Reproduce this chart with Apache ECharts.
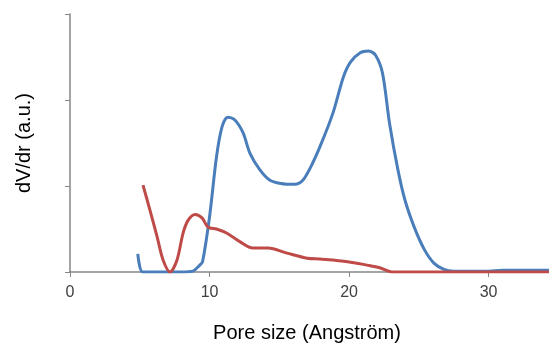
<!DOCTYPE html>
<html>
<head>
<meta charset="utf-8">
<script src="https://cdn.jsdelivr.net/npm/echarts@6/dist/echarts.min.js"></script>
<style>
  html, body { margin: 0; padding: 0; background: #fff; }
  #chart { width: 549px; height: 344px; }
</style>
</head>
<body>
<div id="chart"></div>
<script>
// pore size (Angstrom) and dV/dr (a.u.)
var blueX = [4.86, 5.2, 6, 7, 8, 8.8, 9.3, 9.5, 10.0, 10.5, 10.9, 11.3, 11.8, 12.4, 12.9, 13.6, 14.3, 15.1, 16.1, 16.7, 17.4, 18.1, 18.85, 19.6, 20.1, 20.8, 21.4, 21.9, 22.4, 22.9, 23.5, 24.0, 24.7, 25.4, 26.1, 26.8, 27.5, 30, 31, 34.4];
var blueY = [0.21, 0, 0, 0, 0, 0.01, 0.08, 0.12, 0.64, 1.34, 1.69, 1.80, 1.77, 1.62, 1.38, 1.19, 1.07, 1.03, 1.02, 1.07, 1.27, 1.53, 1.85, 2.27, 2.44, 2.55, 2.57, 2.52, 2.31, 1.73, 1.19, 0.84, 0.51, 0.26, 0.10, 0.03, 0.01, 0.01, 0.02, 0.02];

var redX = [5.23, 5.73, 6.24, 6.67, 7.17, 7.67, 8.1, 8.46, 8.96, 9.46, 9.9, 10.5, 11.25, 12.2, 13.1, 14.2, 15.55, 17.0, 17.9, 19.9, 21.3, 22.2, 23.15, 25, 30, 34.4];
var redY = [1.01, 0.72, 0.41, 0.14, 0, 0.14, 0.45, 0.60, 0.67, 0.63, 0.52, 0.50, 0.45, 0.35, 0.28, 0.28, 0.22, 0.16, 0.15, 0.12, 0.08, 0.05, 0, 0, 0, 0];

var xTicks = [0, 10, 20, 30];

function pairs(xs, ys) {
  return xs.map(function (x, i) { return [x, ys[i]]; });
}

var myChart = echarts.init(document.getElementById("chart"));
var option = {
  animation: false,
  textStyle: { fontFamily: "Liberation Sans, Arial, sans-serif" },
  grid: { left: 70, right: 0, top: 14, bottom: 72, outerBoundsMode: "none", containLabel: false },
  xAxis: {
    type: "value",
    min: 0,
    max: 34.33,
    interval: 10,
    name: "Pore size (Angström)",
    nameLocation: "middle",
    nameGap: 51,
    nameTextStyle: { fontSize: 20, color: "#000", padding: [0, 5, 0, 0] },
    axisLine: { show: true, lineStyle: { color: "#868686", width: 1.5 } },
    axisTick: { show: true, length: 5, customValues: xTicks, lineStyle: { color: "#868686" } },
    axisLabel: { customValues: xTicks, fontSize: 16, color: "#404040", margin: 13 },
    splitLine: { show: false }
  },
  yAxis: {
    type: "value",
    min: 0,
    max: 3,
    interval: 1,
    name: "dV/dr (a.u.)",
    nameLocation: "middle",
    nameGap: 36,
    nameTextStyle: { fontSize: 20, color: "#000" },
    axisLine: { show: true, lineStyle: { color: "#868686", width: 1.5 } },
    axisTick: { show: true, length: 5, lineStyle: { color: "#868686" } },
    axisLabel: { show: false },
    splitLine: { show: false }
  },
  series: [
    {
      type: "line",
      data: pairs(blueX, blueY),
      smooth: 0.3,
      showSymbol: false,
      lineStyle: { color: "#4a7ebb", width: 3 },
      itemStyle: { color: "#4a7ebb" }
    },
    {
      type: "line",
      data: pairs(redX, redY),
      smooth: 0.3,
      showSymbol: false,
      lineStyle: { color: "#be4b48", width: 3 },
      itemStyle: { color: "#be4b48" }
    }
  ]
};
myChart.setOption(option);
</script>
</body>
</html>
